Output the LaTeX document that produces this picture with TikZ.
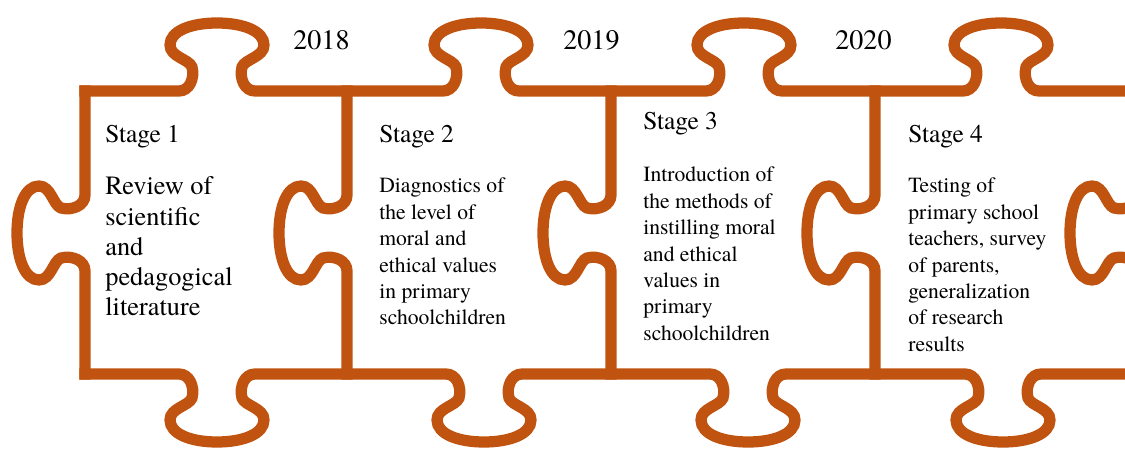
\documentclass[tikz,border=0pt]{standalone}
\usepackage{fontspec}
\setmainfont{TeX Gyre Termes}
\usepackage{tikz}
\definecolor{puzzleorange}{HTML}{C0530F}

% one knob of the jigsaw outline, as a piece of path
\newcommand{\knobup}[2]{-- ({#1-38},#2)
  .. controls ({#1-28},#2) and ({#1-22},{#2-12}) .. ({#1-25},{#2-24})
  .. controls ({#1-28},{#2-32}) and ({#1-47},{#2-34}) .. ({#1-47},{#2-46})
  .. controls ({#1-47},{#2-60}) and ({#1-26},{#2-68}) .. (#1,{#2-68})
  .. controls ({#1+26},{#2-68}) and ({#1+47},{#2-60}) .. ({#1+47},{#2-46})
  .. controls ({#1+47},{#2-34}) and ({#1+28},{#2-32}) .. ({#1+25},{#2-24})
  .. controls ({#1+22},{#2-12}) and ({#1+28},#2) .. ({#1+38},#2)}
\newcommand{\knobdown}[2]{-- ({#1-38},#2)
  .. controls ({#1-28},#2) and ({#1-22},{#2+12}) .. ({#1-25},{#2+24})
  .. controls ({#1-28},{#2+32}) and ({#1-47},{#2+34}) .. ({#1-47},{#2+46})
  .. controls ({#1-47},{#2+60}) and ({#1-26},{#2+68}) .. (#1,{#2+68})
  .. controls ({#1+26},{#2+68}) and ({#1+47},{#2+60}) .. ({#1+47},{#2+46})
  .. controls ({#1+47},{#2+34}) and ({#1+28},{#2+32}) .. ({#1+25},{#2+24})
  .. controls ({#1+22},{#2+12}) and ({#1+28},#2) .. ({#1+38},#2)}
\newcommand{\knobleft}[2]{-- (#1,{#2-38})
  .. controls (#1,{#2-28}) and ({#1-12},{#2-22}) .. ({#1-24},{#2-25})
  .. controls ({#1-32},{#2-28}) and ({#1-34},{#2-47}) .. ({#1-46},{#2-47})
  .. controls ({#1-60},{#2-47}) and ({#1-68},{#2-26}) .. ({#1-68},#2)
  .. controls ({#1-68},{#2+26}) and ({#1-60},{#2+47}) .. ({#1-46},{#2+47})
  .. controls ({#1-34},{#2+47}) and ({#1-32},{#2+28}) .. ({#1-24},{#2+25})
  .. controls ({#1-12},{#2+22}) and (#1,{#2+28}) .. (#1,{#2+38})}
\newcommand{\lines}[1]{\begin{tabular}[t]{@{}l@{}}#1\end{tabular}}

\tikzset{
  puzzle/.style={draw=puzzleorange, line width=6.4pt, line cap=rect},
  yearlabel/.style={anchor=base west, inner sep=0pt, font=\fontsize{16}{19}\selectfont},
  stagehead/.style={anchor=base west, inner sep=0pt, font=\fontsize{14.5}{17}\selectfont},
  stagetext/.style={anchor=base west, inner sep=0pt, font=\fontsize{12.3}{15}\selectfont},
  bigtext/.style={anchor=base west, inner sep=0pt, font=\fontsize{15}{17.1}\selectfont},
}

\begin{document}
\begin{tikzpicture}[x=0.2mm, y=-0.2mm]
      \useasboundingbox (0,0) rectangle (1125,451);
      \clip (0,0) rectangle (1125,451);

      % outline of the four pieces
      \draw[puzzle] (85,91) \knobup{217}{91} \knobup{481}{91} \knobup{744}{91} \knobup{1001}{91} -- (1138,91);
      \draw[puzzle] (85,374) \knobdown{217}{374} \knobdown{484}{374} \knobdown{748}{374} \knobdown{1003}{374} -- (1138,374);
      \foreach \x in {85,347,611,875,1138}
        \draw[puzzle] (\x,91) \knobleft{\x}{233} -- (\x,374);

      \node (y2018) at (293,50) [yearlabel] {2018};
      \node (y2019) at (563,50) [yearlabel] {2019};
      \node (y2020) at (835,50) [yearlabel] {2020};

      \node (head1) at (105,143) [stagehead] {Stage 1};
      \node (text1) at (105,195) [bigtext]
        {\lines{Review of\\ scientific\\ and\\ pedagogical\\ literature}};

      \node (head2) at (379,143) [stagehead] {Stage 2};
      \node (text2) at (379,193) [stagetext]
        {\lines{Diagnostics of\\ the level of\\ moral and\\ ethical values\\ in primary\\ schoolchildren}};

      \node (head3) at (643,130) [stagehead] {Stage 3};
      \node (text3) at (643,182) [stagetext]
        {\lines{Introduction of\\ the methods of\\ instilling moral\\ and ethical\\ values in\\ primary\\ schoolchildren}};

      \node (head4) at (908,143) [stagehead] {Stage 4};
      \node (text4) at (908,193) [stagetext]
        {\lines{Testing of\\ primary school\\ teachers, survey\\ of parents,\\ generalization\\ of research\\ results}};
\end{tikzpicture}
\end{document}
